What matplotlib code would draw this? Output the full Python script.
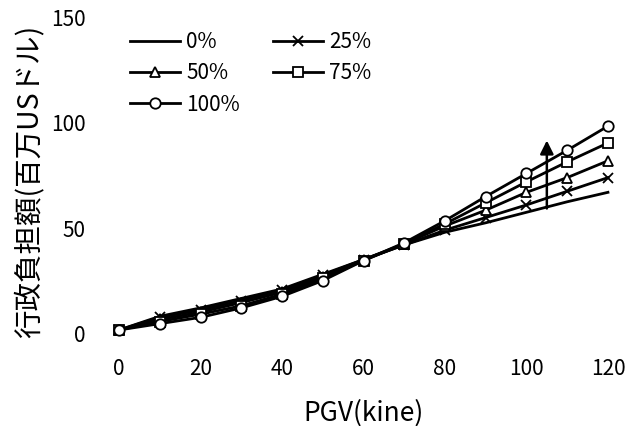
import matplotlib
matplotlib.use("Agg")
import matplotlib.pyplot as plt
import numpy as np

plt.rcParams['font.family'] = ['Noto Sans CJK JP', 'DejaVu Sans']

# PGV (kine)
pgv = [0, 10, 20, 30, 40, 50, 60, 70, 80, 90, 100, 110, 120]

# administrative burden (million USD) for each ratio
burden_0 = [1.5, 8, 12, 16.5, 21, 28, 35, 42, 48, 52.5, 57.5, 62.5, 67]
burden_25 = [1.5, 7.5, 11, 15.5, 20.5, 27.5, 35, 42, 49, 55, 61, 67.5, 74]
burden_50 = [1.5, 6.5, 10, 14.5, 19.5, 26.5, 35, 42.5, 51, 58.5, 67, 74, 82]
burden_75 = [1.5, 5.5, 9, 13, 18.5, 26, 34.5, 42.5, 52, 62, 72, 81.5, 90.5]
burden_100 = [1.5, 4.5, 7.5, 12, 17.5, 25, 34.5, 43, 53.5, 65, 76, 87, 98.5]

series = [
    ("0%", burden_0, None),
    ("25%", burden_25, "x"),
    ("50%", burden_50, "^"),
    ("75%", burden_75, "s"),
    ("100%", burden_100, "o"),
]

fig = plt.figure(figsize=(6.3, 4.26), dpi=100)
ax = fig.add_axes([0.189, 0.218, 0.776, 0.740])

lines = {}
for name, vals, mk in series:
    ln, = ax.plot(pgv, vals, color="black", lw=2.0, marker=mk, markersize=7.5,
                  markerfacecolor="white", markeredgecolor="black", mew=1.3,
                  label=name, clip_on=False)
    lines[name] = ln

# arrow showing the increase of the ratio
ax.annotate("", xy=(105, 93), xytext=(105, 58),
            arrowprops=dict(arrowstyle="-|>", color="black", lw=1.8,
                            mutation_scale=20))

ax.set_xlim(0, 120)
ax.set_ylim(0, 150)
ax.set_xticks(range(0, 121, 20))
ax.set_yticks([0, 50, 100, 150])
for s in ax.spines.values():
    s.set_visible(False)
ax.tick_params(length=0, labelsize=15)
ax.tick_params(axis="x", pad=18)
ax.tick_params(axis="y", pad=24)

ax.set_xlabel("PGV(kine)", fontsize=19, labelpad=14)
ax.set_ylabel("行政負担額(百万USドル)", fontsize=20.5)
ax.yaxis.set_label_coords(-0.152, 0.48)

# row-wise legend order: 0% 25% / 50% 75% / 100%
order = ["0%", "50%", "100%", "25%", "75%"]
ax.legend([lines[k] for k in order], order, loc="upper left", ncol=2,
          frameon=False, fontsize=15, handlelength=2.4, handletextpad=0.3,
          columnspacing=1.6, labelspacing=0.45, borderaxespad=0,
          bbox_to_anchor=(0.005, 0.985))

fig.savefig("out.png", dpi=100)
